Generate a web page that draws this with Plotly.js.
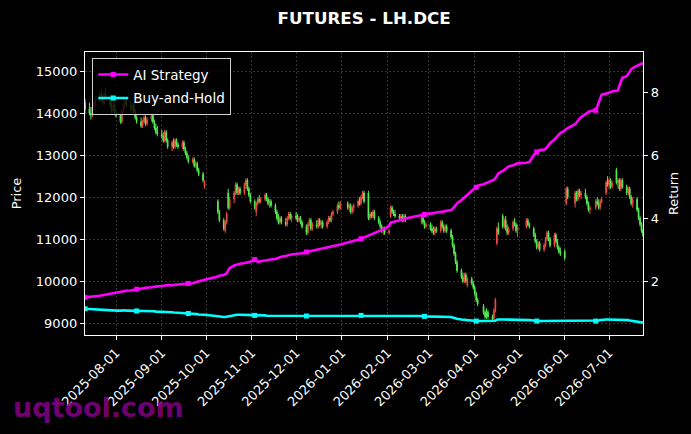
<!DOCTYPE html>
<html>
<head>
<meta charset="utf-8">
<script src="https://cdn.plot.ly/plotly-3.0.1.min.js"></script>
<style>html,body{margin:0;padding:0;background:#000;}#chart{width:691px;height:434px;}</style>
</head>
<body>
<div id="chart"></div>
<script>
// ---- trading calendar (weekdays between start and end, minus exchange holidays) ----
const startDate = '2025-07-11';
const endDate = '2026-07-24';
const holidays = ['2025-10-01','2025-10-02','2025-10-03','2025-10-06','2025-10-07','2025-10-08',
  '2026-01-01','2026-01-02','2026-02-16','2026-02-17','2026-02-18','2026-02-19','2026-02-20','2026-02-23',
  '2026-04-06','2026-05-01','2026-05-04','2026-05-05','2026-06-04','2026-06-05','2026-06-19'];

// ---- x tick labels ----
const tickDates = ['2025-08-01','2025-09-01','2025-10-01','2025-11-01','2025-12-01','2026-01-01',
  '2026-02-01','2026-03-01','2026-04-01','2026-05-01','2026-06-01','2026-07-01'];
const priceTicks = [9000,10000,11000,12000,13000,14000,15000];
const returnTicks = [2,4,6,8];

// ---- daily OHLC (LH.DCE) ----
const openPrices = [14250,
14100,14000,13950,14150,14250, 14300,14450,14350,14250,14450, 14400,14200,14050,14200,14000,
13950,13800,14050,14200,14300, 14200,14100,14200,14050,13900, 13800,13700,13800,13900,13750,
13850,13950,13800,13650,13550, 13500,13450,13350,13550,13350, 13200,13300,13200,13350,13250,
13200,13300,13150,13050,12950, 12850,12900,12750,12800,12650, 12550,12250,
11900,11650, 11450,11200,11400,12100,11750, 11950,12100,12300,12100,12200, 12100,12300,12400,12200,12050,
11900,11650,11850,11950,11900, 11950,12050,11950,11850,11900, 11800,11650,11500,11400,11500,
11400,11350,11500,11600,11500, 11550,11500,11450,11500,11400, 11300,11150,11350,11450,11250,
11350,11300,11450,11350,11400, 11300,11400,11500,11450,11600, 11650,11800,11750,
11850,11750,11800,11650,11750, 11800,11900,11850,12000,12100, 12100,11500,11600,11550,11650,
11500,11400,11300,11200,11250, 11150,11550,11750,11650,11600, 11550,11500,11550,11450,11550,
11400,11500,11400,11300, 11350,11250,11200,11150,11250, 11200,11400,11300,11200,11300,
11200,11050,10850,10650,10450, 10250,10100,10000,10150,9900, 10050,9950,9850,9700,9550,
9400,9250,9300,9250, 9150,9100,9300,10900,11250, 11550,11300,11450,11250,11150, 11250,11400,11350,11200,
11300,11450,11350, 11250,11100,10950,10800,10900, 10750,10850,11000,11150,11000, 10850,11100,10950,10800,10700,
10700,11850,12200, 11850,12100,11950,12150,12050, 12100,12000,11850,11700,
11750,11900,11850,11750,11900, 12100,12350,12300,12400,12250, 12650,12350,12400,12200,12400,
12250,12100,12200,12000,11850, 11950,11700,11500,11350,11200];

const highPrices = [14350,
14250,14150,14200,14300,14400, 14500,14550,14450,14500,14600, 14450,14300,14250,14250,14100,
14000,14100,14250,14350,14350, 14300,14250,14250,14100,13950, 13900,13850,13950,13950,13900,
14000,14000,13850,13750,13700, 13600,13550,13600,13600,13400, 13350,13400,13400,13400,13300,
13350,13350,13200,13100,13000, 12950,12950,12850,12850,12700, 12600,12400,
11950,11700, 11500,11450,11650,12200,12000, 12150,12350,12350,12250,12250, 12350,12450,12450,12250,12100,
11950,11900,12000,12050,12000, 12100,12100,12000,11950,11950, 11850,11700,11600,11550,11550,
11500,11550,11650,11650,11600, 11650,11600,11550,11550,11450, 11350,11400,11500,11500,11400,
11450,11500,11500,11450,11450, 11450,11550,11550,11650,11700, 11850,11900,11900,
11900,11850,11850,11800,11850, 11950,12000,12050,12150,12150, 12150,11650,11650,11700,11700,
11550,11450,11350,11300,11300, 11250,11800,11800,11700,11700, 11600,11600,11600,11600,11600,
11550,11550,11450,11400, 11400,11350,11300,11300,11300, 11450,11450,11350,11350,11350,
11250,11100,10900,10700,10500, 10300,10200,10200,10200,10100, 10100,10000,9900,9750,9600,
9450,9300,9350,9300, 9200,9350,9600,11300,11400, 11600,11500,11550,11350,11300, 11450,11500,11400,11350,
11500,11500,11400, 11300,11150,11000,10950,10950, 10900,11050,11200,11200,11050, 11150,11150,11000,10850,10800,
10750,12250,12250, 12150,12150,12200,12200,12150, 12200,12050,11900,11800,
11950,12000,11950,11950,12000, 12400,12500,12450,12450,12400, 12700,12450,12450,12450,12450,
12300,12250,12250,12050,12000, 12000,11750,11550,11400,11250];

const lowPrices = [14000,
13950,13850,13900,14050,14150, 14250,14300,14200,14200,14350, 14150,14000,14000,13950,13900,
13750,13750,14000,14100,14150, 14050,14000,14000,13850,13750, 13650,13650,13750,13700,13700,
13800,13750,13600,13500,13450, 13400,13300,13300,13300,13150, 13100,13150,13150,13200,13150,
13150,13100,13000,12900,12800, 12800,12700,12700,12600,12500, 12350,12200,
11600,11400, 11200,11150,11350,11700,11700, 11850,12050,12050,12050,12050, 12050,12200,12150,12000,11850,
11700,11550,11800,11850,11850, 11900,11900,11800,11750,11750, 11600,11450,11350,11350,11350,
11300,11300,11450,11450,11400, 11450,11400,11400,11350,11250, 11100,11100,11300,11200,11200,
11250,11250,11300,11250,11250, 11250,11350,11400,11400,11550, 11600,11700,11700,
11700,11650,11600,11600,11650, 11750,11800,11800,11950,11850, 11450,11450,11500,11500,11450,
11350,11250,11150,11100,11100, 11100,11500,11600,11550,11500, 11450,11450,11400,11400,11400,
11350,11350,11250,11250, 11200,11150,11100,11100,11150, 11150,11250,11150,11150,11150,
11000,10800,10600,10400,10200, 10050,9950,9950,9950,9850, 9900,9800,9650,9500,9400,
9200,9100,9100,9100, 9050,9050,9250,10850,11100, 11250,11250,11200,11100,11100, 11200,11300,11150,11050,
11250,11300,11250, 11050,10900,10750,10750,10700, 10700,10800,10950,10950,10800, 10800,10900,10750,10650,10600,
10500,11800,11950, 11750,11900,11900,12000,11950, 11950,11800,11650,11600,
11700,11800,11700,11700,11850, 12050,12250,12200,12200,12200, 12300,12200,12150,12150,12200,
12050,12050,11950,11800,11750, 11650,11450,11300,11150,11050];

const closePrices = [14100,
14000,13950,14150,14250,14300, 14450,14350,14250,14450,14400, 14200,14050,14200,14000,13950,
13800,14050,14200,14300,14200, 14100,14200,14050,13900,13800, 13700,13800,13900,13750,13850,
13950,13800,13650,13550,13500, 13450,13350,13550,13350,13200, 13300,13200,13350,13250,13200,
13300,13150,13050,12950,12850, 12900,12750,12800,12650,12550, 12400,12350,
11650,11450, 11250,11400,11600,11750,11950, 12100,12300,12100,12200,12100, 12300,12400,12200,12050,11900,
11750,11850,11950,11900,11950, 12050,11950,11850,11900,11800, 11650,11500,11400,11500,11400,
11350,11500,11600,11500,11550, 11500,11450,11500,11400,11300, 11150,11350,11450,11250,11350,
11300,11450,11350,11400,11300, 11400,11500,11450,11600,11650, 11800,11750,11850,
11750,11800,11650,11750,11800, 11900,11850,12000,12100,11900, 11500,11600,11550,11650,11500,
11400,11300,11200,11250,11150, 11200,11750,11650,11600,11550, 11500,11550,11450,11550,11450,
11500,11400,11300,11350, 11250,11200,11150,11250,11200, 11400,11300,11200,11300,11200,
11050,10850,10650,10450,10250, 10100,10000,10150,10000,10050, 9950,9850,9700,9550,9450,
9250,9150,9150,9150, 9100,9300,9550,11250,11150, 11300,11450,11250,11150,11250, 11400,11350,11200,11300,
11450,11350,11300, 11100,10950,10800,10900,10750, 10850,11000,11150,11000,10850, 11100,10950,10800,10700,10650,
10550,12200,12000, 12100,11950,12150,12050,12100, 12000,11850,11700,11750,
11900,11850,11750,11900,11950, 12350,12300,12400,12250,12350, 12350,12400,12200,12400,12250,
12100,12200,12000,11850,11950, 11700,11500,11350,11200,11100];

// ---- cumulative return series ----
const aiStrategy = [1.49,
1.50,1.51,1.51,1.52,1.53, 1.54,1.55,1.56,1.57,1.58, 1.60,1.61,1.62,1.63,1.65,
1.66,1.67,1.68,1.69,1.70, 1.71,1.72,1.73,1.74,1.75, 1.76,1.77,1.78,1.79,1.80,
1.81,1.82,1.82,1.83,1.84, 1.85,1.86,1.86,1.87,1.88, 1.88,1.89,1.89,1.90,1.90,
1.91,1.91,1.92,1.92,1.93, 1.94,1.96,1.97,1.99,2.00, 2.03,2.05,
2.15,2.18, 2.20,2.22,2.25,2.35,2.42, 2.50,2.52,2.53,2.55,2.56, 2.58,2.59,2.60,2.61,2.62,
2.69,2.64,2.62,2.63,2.64, 2.65,2.66,2.67,2.68,2.69, 2.71,2.73,2.75,2.77,2.78,
2.80,2.82,2.83,2.84,2.85, 2.86,2.87,2.87,2.88,2.89, 2.93,2.94,2.95,2.96,2.97,
2.99,3.00,3.01,3.02,3.04, 3.06,3.08,3.09,3.11,3.12, 3.15,3.16,3.17,
3.23,3.25,3.26,3.27,3.28, 3.31,3.33,3.35,3.37,3.39, 3.43,3.46,3.48,3.50,3.52,
3.58,3.61,3.63,3.65,3.67, 3.75,3.86,3.87,3.88,3.89, 3.93,3.95,3.96,3.97,3.99,
4.08,4.10,4.12,4.13, 4.14,4.15,4.16,4.17,4.18, 4.19,4.20,4.21,4.23,4.24,
4.26,4.30,4.35,4.40,4.47, 4.58,4.62,4.66,4.70,4.75, 4.85,4.88,4.92,4.98,5.03,
5.08,5.10,5.12,5.14, 5.18,5.22,5.27,5.35,5.42, 5.50,5.54,5.58,5.61,5.64, 5.68,5.70,5.72,5.74,
5.76,5.77,5.78, 6.00,6.06,6.10,6.13,6.16, 6.18,6.20,6.25,6.32,6.38, 6.50,6.55,6.60,6.65,6.70,
6.78,6.82,6.86, 6.98,7.05,7.10,7.15,7.20, 7.28,7.33,7.37,7.39,
7.42,7.55,7.70,7.82,7.92, 7.95,7.97,7.98,8.00,8.02, 8.04,8.05,8.20,8.35,8.45,
8.50,8.58,8.65,8.72,8.76, 8.83,8.87,8.89,8.90,8.90];

const buyAndHold = [1.13,
1.12,1.12,1.11,1.11,1.10, 1.09,1.08,1.09,1.09,1.08, 1.08,1.08,1.08,1.07,1.07,
1.07,1.08,1.08,1.08,1.07, 1.07,1.07,1.07,1.06,1.06, 1.06,1.06,1.06,1.05,1.05,
1.05,1.05,1.05,1.04,1.04, 1.04,1.03,1.03,1.03,1.02, 1.02,1.01,1.01,1.00,1.00,
1.00,0.99,0.99,0.98,0.98, 0.97,0.97,0.96,0.96,0.95, 0.95,0.94,
0.89,0.88, 0.87,0.87,0.88,0.90,0.91, 0.93,0.94,0.94,0.94,0.94, 0.94,0.94,0.93,0.93,0.92,
0.92,0.92,0.92,0.92,0.92, 0.92,0.91,0.91,0.91,0.91, 0.90,0.90,0.90,0.90,0.90,
0.90,0.90,0.91,0.91,0.90, 0.90,0.90,0.90,0.90,0.90, 0.90,0.91,0.91,0.91,0.91,
0.91,0.91,0.91,0.92,0.92, 0.92,0.92,0.92,0.92,0.92, 0.92,0.92,0.92,
0.92,0.92,0.92,0.92,0.92, 0.92,0.92,0.92,0.92,0.92, 0.92,0.92,0.92,0.92,0.92,
0.92,0.92,0.91,0.91,0.91, 0.91,0.92,0.92,0.91,0.91, 0.91,0.91,0.91,0.91,0.91,
0.90,0.89,0.89,0.89, 0.89,0.89,0.89,0.88,0.88, 0.88,0.88,0.88,0.87,0.87,
0.87,0.85,0.83,0.82,0.81, 0.79,0.79,0.78,0.78,0.77, 0.76,0.75,0.75,0.74,0.74,
0.74,0.74,0.74,0.74, 0.74,0.74,0.75,0.78,0.79, 0.79,0.79,0.79,0.78,0.78, 0.78,0.78,0.78,0.78,
0.77,0.77,0.77, 0.76,0.75,0.74,0.74,0.74, 0.74,0.74,0.75,0.75,0.75, 0.76,0.76,0.75,0.75,0.75,
0.75,0.76,0.76, 0.76,0.76,0.76,0.76,0.76, 0.76,0.75,0.75,0.74,
0.74,0.75,0.76,0.77,0.78, 0.79,0.79,0.79,0.79,0.78, 0.78,0.78,0.78,0.78,0.78,
0.78,0.77,0.76,0.75,0.74, 0.73,0.72,0.71,0.70,0.69];

// ---- build date list ----
const dates = [];
(function(){
  const hol = new Set(holidays);
  let d = new Date(startDate + 'T00:00:00Z');
  const end = new Date(endDate + 'T00:00:00Z');
  while (d <= end) {
    const wd = d.getUTCDay();
    const s = d.toISOString().slice(0,10);
    if (wd !== 0 && wd !== 6 && !hol.has(s)) dates.push(s);
    d = new Date(d.getTime() + 86400000);
  }
})();

const markEvery = 25;
function markerColors(col){ return dates.map((_, i) => (i % markEvery === 0 ? col : 'rgba(0,0,0,0)')); }

const FONT = 'DejaVu Sans, Liberation Sans, sans-serif';

const traces = [
  {
    type: 'candlestick', x: dates, open: openPrices, high: highPrices, low: lowPrices, close: closePrices,
    increasing: {line: {color: '#ef4a44', width: 1}, fillcolor: '#ef4a44'},
    decreasing: {line: {color: '#55ee55', width: 1}, fillcolor: '#55ee55'},
    whiskerwidth: 0, showlegend: false, hoverinfo: 'skip', xaxis: 'x', yaxis: 'y'
  },
  {
    type: 'scatter', mode: 'lines+markers', name: 'AI Strategy', x: dates, y: aiStrategy,
    line: {color: '#ff00ff', width: 2.6}, marker: {symbol: 'square', size: 5, color: markerColors('#ff00ff')},
    xaxis: 'x', yaxis: 'y2', legendgroup: 'a'
  },
  {
    type: 'scatter', mode: 'lines+markers', name: 'Buy-and-Hold', x: dates, y: buyAndHold,
    line: {color: '#00ffff', width: 2.6}, marker: {symbol: 'square', size: 5, color: markerColors('#00ffff')},
    xaxis: 'x', yaxis: 'y2', legendgroup: 'b'
  }
];

const gridCol = 'rgba(140,140,140,0.45)';
const layout = {
  width: 691, height: 434,
  margin: {l: 85, r: 48, t: 52, b: 99, pad: 0},
  paper_bgcolor: '#000000', plot_bgcolor: '#000000',
  font: {family: FONT, color: '#ffffff', size: 13},
  showlegend: true,
  title: {text: 'FUTURES - LH.DCE', font: {family: FONT, size: 16.7, color: '#ffffff', weight: 'bold'},
          x: 0.527, xanchor: 'center', xref: 'container', y: 0.958, yanchor: 'middle', yref: 'container'},
  xaxis: {
    type: 'date', range: [startDate, endDate], rangeslider: {visible: false},
    tickmode: 'array', tickvals: tickDates, ticktext: tickDates, tickangle: -45,
    ticks: 'outside', ticklen: 4, tickwidth: 1, tickcolor: '#ffffff',
    tickfont: {family: FONT, size: 13, color: '#ffffff'},
    showline: true, linecolor: '#ffffff', linewidth: 1.2, mirror: true,
    showgrid: true, gridcolor: gridCol, gridwidth: 0.8, griddash: '2px,2px', zeroline: false
  },
  yaxis: {
    range: [8714, 15460], tickmode: 'array', tickvals: priceTicks, ticktext: priceTicks.map(String),
    ticks: 'outside', ticklen: 4, tickwidth: 1, tickcolor: '#ffffff',
    tickfont: {family: FONT, size: 13, color: '#ffffff'},
    showline: true, linecolor: '#ffffff', linewidth: 1.2, mirror: true,
    showgrid: true, gridcolor: gridCol, gridwidth: 0.8, griddash: '2px,2px', zeroline: false,
    title: {text: 'Price', font: {family: FONT, size: 13, color: '#ffffff'}, standoff: 11}
  },
  yaxis2: {
    overlaying: 'y', side: 'right', range: [0.298, 9.27], tickmode: 'array', tickvals: returnTicks,
    ticktext: returnTicks.map(String),
    ticks: 'outside', ticklen: 4, tickwidth: 1, tickcolor: '#ffffff',
    tickfont: {family: FONT, size: 13, color: '#ffffff'},
    showline: true, linecolor: '#ffffff', linewidth: 1.2,
    showgrid: false, zeroline: false,
    title: {text: 'Return', font: {family: FONT, size: 13, color: '#ffffff'}, standoff: 10}
  },
  legend: {
    x: 0.013, y: 0.978, xanchor: 'left', yanchor: 'top',
    bgcolor: 'rgba(0,0,0,0.8)', bordercolor: '#d0d0d0', borderwidth: 1,
    font: {family: FONT, size: 13.5, color: '#ffffff'},
    traceorder: 'grouped', tracegroupgap: 3
  },
  annotations: [{
    text: 'uqtool.com', xref: 'paper', yref: 'paper', x: -0.132, y: -0.255, xanchor: 'left', yanchor: 'middle',
    showarrow: false, font: {family: FONT, size: 27, color: 'rgba(128,0,128,0.9)', weight: 'bold'}
  }]
};

Plotly.newPlot('chart', traces, layout, {staticPlot: true, displayModeBar: false});
</script>
</body>
</html>
